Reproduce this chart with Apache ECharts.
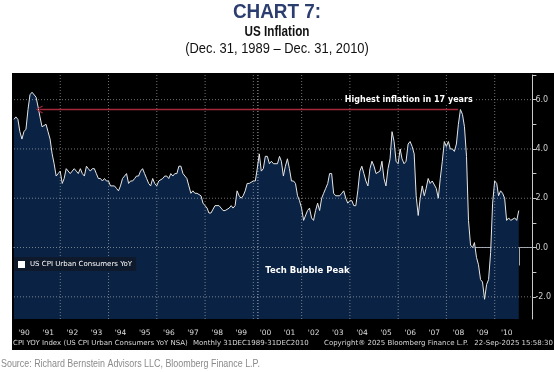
<!DOCTYPE html>
<html>
<head>
<meta charset="utf-8">
<script src="https://cdn.jsdelivr.net/npm/echarts@6/dist/echarts.min.js"></script>
<style>
html,body{margin:0;padding:0;background:#fff;}
#c{width:554px;height:372px;}
</style>
</head>
<body>
<div id="c"></div>
<script>
// ---- data ----
var startYear = 1990;
var cpiYoY = [
  // 1990
  5.2, 5.3, 5.2, 4.7, 4.4, 4.7, 4.8, 5.6, 6.2, 6.3, 6.3, 6.1,
  // 1991
  5.7, 5.3, 4.9, 4.9, 5.0, 4.7, 4.4, 3.8, 3.4, 2.9, 3.0, 3.1,
  // 1992
  2.6, 2.8, 3.2, 3.2, 3.0, 3.1, 3.2, 3.1, 3.0, 3.2, 3.0, 2.9,
  // 1993
  3.3, 3.2, 3.1, 3.2, 3.2, 3.0, 2.8, 2.8, 2.7, 2.8, 2.7, 2.7,
  // 1994
  2.5, 2.5, 2.5, 2.4, 2.3, 2.5, 2.8, 2.9, 3.0, 2.6, 2.7, 2.7,
  // 1995
  2.8, 2.9, 2.9, 3.1, 3.2, 3.0, 2.8, 2.6, 2.5, 2.8, 2.6, 2.5,
  // 1996
  2.7, 2.7, 2.8, 2.9, 2.9, 2.8, 3.0, 2.9, 3.0, 3.0, 3.3, 3.3,
  // 1997
  3.0, 3.0, 2.8, 2.5, 2.2, 2.3, 2.2, 2.2, 2.2, 2.1, 1.8, 1.7,
  // 1998
  1.6, 1.4, 1.4, 1.4, 1.7, 1.7, 1.7, 1.6, 1.5, 1.5, 1.5, 1.6,
  // 1999
  1.7, 1.6, 1.7, 2.3, 2.1, 2.0, 2.1, 2.3, 2.6, 2.6, 2.6, 2.7,
  // 2000
  2.7, 3.2, 3.8, 3.1, 3.2, 3.7, 3.7, 3.4, 3.5, 3.4, 3.4, 3.4,
  // 2001
  3.7, 3.5, 2.9, 3.3, 3.6, 3.2, 2.7, 2.7, 2.6, 2.1, 1.9, 1.6,
  // 2002
  1.1, 1.1, 1.5, 1.6, 1.2, 1.1, 1.5, 1.8, 1.5, 2.0, 2.2, 2.4,
  // 2003
  2.6, 3.0, 3.0, 2.2, 2.1, 2.1, 2.1, 2.2, 2.3, 2.0, 1.8, 1.9,
  // 2004
  1.9, 1.7, 1.7, 2.3, 3.1, 3.3, 3.0, 2.7, 2.5, 3.2, 3.5, 3.3,
  // 2005
  3.0, 3.0, 3.1, 3.5, 2.8, 2.5, 3.2, 3.6, 4.7, 4.3, 3.5, 3.4,
  // 2006
  4.0, 3.6, 3.4, 3.5, 4.2, 4.3, 4.1, 3.8, 2.1, 1.3, 2.0, 2.5,
  // 2007
  2.1, 2.4, 2.8, 2.6, 2.7, 2.7, 2.4, 2.0, 2.8, 3.5, 4.3, 4.1,
  // 2008
  4.3, 4.0, 4.0, 3.9, 4.2, 5.0, 5.6, 5.4, 4.9, 3.7, 1.1, 0.1,
  // 2009
  0.0, 0.2, -0.4, -0.7, -1.3, -1.4, -2.1, -1.5, -1.3, -0.2, 1.8, 2.7,
  // 2010
  2.6, 2.1, 2.3, 2.2, 2.0, 1.1, 1.2, 1.1, 1.1, 1.2, 1.1, 1.5
];
var yLabelValues = [-2, 0, 2, 4, 6];
var yTickValues = [-2, -1, 0, 1, 2, 3, 4, 5, 6, 7];
var yMin = -2.9, yMax = 7.0;
var yearTickYears = [];
for (var yy = 1990; yy <= 2011; yy++) yearTickYears.push(yy);
var yearLabelYears = yearTickYears.slice(0, 21);
var gridYears = [1992, 1994, 1996, 1998, 2000, 2002, 2004, 2006, 2008, 2010];
var highestInflation = { from: '2008-06-25', to: '1991-02-20', value: 5.6 };
var techBubblePeak = '2000-03-10';
var seriesName = 'US CPI Urban Consumers YoY';

// ---- build ----
function monthEnd(i) {
  var y = startYear + Math.floor(i / 12), m = i % 12;
  return Date.UTC(y, m + 1, 0);
}
function ts(s) { return new Date(s + 'T00:00:00Z').getTime(); }
var seriesData = cpiYoY.map(function (v, i) { return [monthEnd(i), v]; });
var xMin = Date.UTC(1990, 0, 31);
var xMax = Date.UTC(2011, 6, 25);

var gridColor = 'rgba(190,190,190,0.6)';
function refLine(data, color, type, width) {
  return {
    type: 'line', data: data, symbol: 'none', silent: true, z: 3,
    lineStyle: { color: color, width: width || 1, type: type },
    emphasis: { disabled: true }, tooltip: { show: false }
  };
}
var extraSeries = [];
yLabelValues.forEach(function (v) {
  extraSeries.push(refLine([[xMin, v], [xMax, v]], gridColor, [1, 2]));
});
gridYears.forEach(function (y) {
  var t = Date.UTC(y, 0, 1);
  extraSeries.push(refLine([[t, yMin], [t, yMax]], gridColor, [1, 2]));
});
extraSeries.push(refLine([[ts(techBubblePeak), yMin], [ts(techBubblePeak), yMax]], 'rgba(225,225,225,0.8)', [1, 2]));
var arrowSeries = refLine([
  { value: [ts(highestInflation.from), highestInflation.value] },
  { value: [ts(highestInflation.to), highestInflation.value],
    symbol: 'path://M0,5 L9,0 L10,1.2 L2.2,5 L10,8.8 L9,10 Z', symbolSize: [7, 8] }
], '#a3283c', 'solid', 1.3);
arrowSeries.itemStyle = { color: '#a3283c' };
arrowSeries.showSymbol = true;
arrowSeries.z = 4;
extraSeries.push(arrowSeries);

var monoFont = "'DejaVu Sans', Verdana, sans-serif";
var sansFont = "'Liberation Sans', Arial, sans-serif";

var chart = echarts.init(document.getElementById('c'), null, { renderer: 'canvas' });
var option = {
  backgroundColor: '#ffffff',
  animation: false,
  graphic: [
    { type: 'rect', z: -10, shape: { x: 12, y: 73, width: 542, height: 277 }, style: { fill: '#000000' } },
    { type: 'text', z: 10, x: 277, y: 12, scaleX: 0.9, style: { x: 0, y: 0, text: 'CHART 7:', fill: '#2c3e70', font: 'bold 21px ' + sansFont, textAlign: 'center', textVerticalAlign: 'middle' } },
    { type: 'text', z: 10, x: 277, y: 32, scaleX: 0.78, style: { x: 0, y: 0, text: 'US Inflation', fill: '#111', font: 'bold 15px ' + sansFont, textAlign: 'center', textVerticalAlign: 'middle' } },
    { type: 'text', z: 10, x: 277, y: 49, scaleX: 0.86, style: { x: 0, y: 0, text: '(Dec. 31, 1989 \u2013 Dec. 31, 2010)', fill: '#111', font: '15px ' + sansFont, textAlign: 'center', textVerticalAlign: 'middle' } },
    { type: 'text', z: 10, x: 1, y: 364, scaleX: 0.81, style: { x: 0, y: 0, text: 'Source: Richard Bernstein Advisors LLC, Bloomberg Finance L.P.', fill: '#8a8a8a', font: '11px ' + sansFont, textAlign: 'left', textVerticalAlign: 'middle' } },
    { type: 'text', z: 10, style: { x: 13, y: 343.5, text: 'CPI YOY Index (US CPI Urban Consumers YoY NSA)', fill: '#d8d8d8', font: '7px ' + monoFont, textAlign: 'left', textVerticalAlign: 'middle' } },
    { type: 'text', z: 10, style: { x: 193, y: 343.5, text: 'Monthly 31DEC1989-31DEC2010', fill: '#d8d8d8', font: '7px ' + monoFont, textAlign: 'left', textVerticalAlign: 'middle' } },
    { type: 'text', z: 10, style: { x: 324, y: 343.5, text: 'Copyright\u00ae 2025 Bloomberg Finance L.P.', fill: '#d8d8d8', font: '7px ' + monoFont, textAlign: 'left', textVerticalAlign: 'middle' } },
    { type: 'text', z: 10, style: { x: 553, y: 343.5, text: '22-Sep-2025 15:58:30', fill: '#d8d8d8', font: '7px ' + monoFont, textAlign: 'right', textVerticalAlign: 'middle' } }
  ],
  legend: {
    show: true,
    left: 14, top: 257,
    backgroundColor: '#0e1a2b',
    padding: [4, 4, 3, 4],
    icon: 'rect', itemWidth: 7, itemHeight: 7, itemGap: 4,
    textStyle: { color: '#ffffff', fontSize: 7, fontFamily: monoFont },
    data: [seriesName]
  },
  grid: { left: 14, right: 21, top: 75, bottom: 53, containLabel: false },
  xAxis: {
    type: 'value', min: xMin, max: xMax,
    axisLine: { show: true, lineStyle: { color: '#9aa3ad', width: 1 } },
    axisTick: { show: true, length: 18, lineStyle: { color: '#a8a8a8', width: 1 },
      customValues: yearTickYears.map(function (y) { return Date.UTC(y, 0, 1); }) },
    axisLabel: { show: true, color: '#dddddd', fontSize: 7.5, fontFamily: monoFont, margin: 10,
      customValues: yearLabelYears.map(function (y) { return Date.UTC(y, 6, 2); }),
      formatter: function (val) { return "'" + String(new Date(val).getUTCFullYear()).slice(2); } },
    splitLine: { show: false }
  },
  yAxis: {
    type: 'value', position: 'right', min: yMin, max: yMax,
    axisLine: { show: true, lineStyle: { color: '#c8c8c8', width: 1 } },
    axisTick: { show: true, inside: false, length: 4, lineStyle: { color: '#c8c8c8' }, customValues: yTickValues },
    axisLabel: { show: true, color: '#cfcfcf', fontSize: 8, fontFamily: monoFont, margin: 3,
      customValues: yLabelValues, formatter: function (v) { return v.toFixed(1); } },
    splitLine: { show: false }
  },
  series: [{
    name: seriesName,
    type: 'line',
    data: seriesData,
    symbol: 'none',
    smooth: false,
    z: 2,
    lineStyle: { color: '#e6e6e6', width: 1 },
    itemStyle: { color: '#ffffff' },
    areaStyle: { color: '#0a2244', opacity: 1, origin: 'start' },
    markPoint: {
      silent: true, symbol: 'circle', symbolSize: 0, z: 6,
      data: [
        { coord: [Date.UTC(2006, 5, 10), 6.0],
          label: { show: true, position: 'inside', formatter: 'Highest inflation in 17 years', color: '#ffffff', fontWeight: 'bold', fontSize: 8, fontFamily: monoFont, backgroundColor: '#000000', padding: [0, 2] } },
        { coord: [Date.UTC(2000, 6, 1), -0.95],
          label: { show: true, position: 'right', distance: 0, formatter: 'Tech Bubble Peak', color: '#ffffff', fontWeight: 'bold', fontSize: 8.5, fontFamily: monoFont } }
      ]
    }
  }].concat(extraSeries)
};
chart.setOption(option);
</script>
</body>
</html>
